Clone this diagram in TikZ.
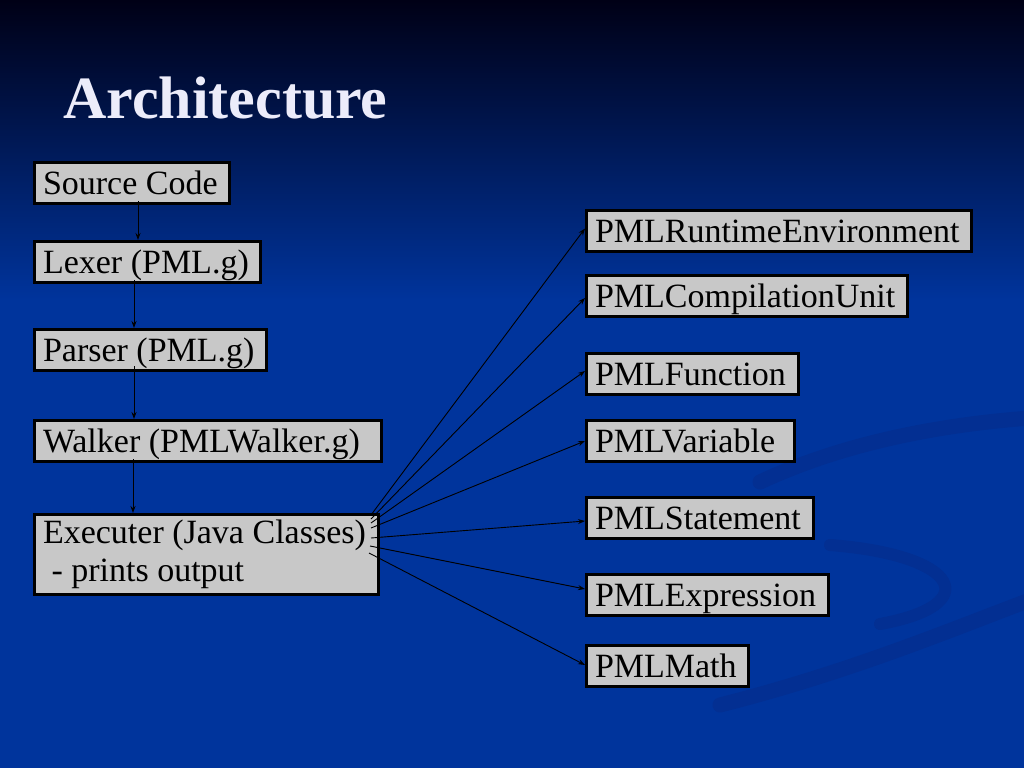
\documentclass[tikz,border=0pt]{standalone}
\usepackage{fontspec}
\setmainfont{Liberation Serif}
\usepackage{tikz}
\usetikzlibrary{positioning, calc, arrows.meta}
\definecolor{bgtop}{RGB}{0,0,22}
\definecolor{bgmid}{RGB}{8,38,118}
\definecolor{bgbot}{RGB}{0,52,156}
\definecolor{swoosh}{RGB}{3,47,146}
\definecolor{boxgray}{RGB}{200,200,200}
\definecolor{titlecol}{RGB}{236,236,250}
\tikzstyle{box} = [draw=black, line width=3pt, fill=boxgray, anchor=north west, align=flush left, inner xsep=8.5pt, inner ysep=1.5pt, font=\fontsize{34}{38}\selectfont]
\tikzstyle{onebox} = [box, text height=30pt, text depth=8pt, minimum height=41pt]
\tikzstyle{link} = [->, line width=0.9pt, >={Stealth[length=7pt,width=5pt]}]
\tikzstyle{heading} = [anchor=base west, inner sep=0pt, font=\fontsize{60}{64}\selectfont\bfseries]

\begin{document}
\begin{tikzpicture}[x=1pt, y=-1pt]
\useasboundingbox (0,0) rectangle (1024,768);
% slide background
\fill[bgbot] (0,0) rectangle (1024,768);
\shade[top color=bgtop, middle color=bgmid, bottom color=bgbot] (0,0) rectangle (1024,300);
\draw[swoosh, line width=15pt, line cap=round] (760,482) .. controls (850,440) and (950,424) .. (1030,418);
\draw[swoosh, line width=12pt, line cap=round] (830,545) .. controls (960,555) and (985,605) .. (880,624);
\draw[swoosh, line width=15pt, line cap=round] (720,705) .. controls (850,672) and (950,630) .. (1030,600);

% title
\node[heading, text=titlecol] (head) at (63,118) {Architecture};

% pipeline
\node[onebox, text width=178pt] (src) at (33,161) {Source Code};
\node[onebox, text width=209pt, below=35pt of src.south west, anchor=north west] (lex) {Lexer (PML.g)};
\node[onebox, text width=215pt, below=44pt of lex.south west, anchor=north west] (par) {Parser (PML.g)};
\node[onebox, text width=330pt, below=47pt of par.south west, anchor=north west] (walk) {Walker (PMLWalker.g)};
\node[box, text width=327pt, minimum height=80pt, below=50pt of walk.south west, anchor=north west] (exec) {Executer (Java Classes)\\\ - prints output};

% java classes
\node[onebox, text width=368pt] (env) at (585,209) {PMLRuntimeEnvironment};
\node[onebox, text width=304pt, below=21pt of env.south west, anchor=north west] (unit) {PMLCompilationUnit};
\node[onebox, text width=195pt, below=34pt of unit.south west, anchor=north west] (func) {PMLFunction};
\node[onebox, text width=191pt, below=23pt of func.south west, anchor=north west] (var) {PMLVariable};
\node[onebox, text width=210pt, below=33pt of var.south west, anchor=north west] (stmt) {PMLStatement};
\node[onebox, text width=225pt, below=33pt of stmt.south west, anchor=north west] (expr) {PMLExpression};
\node[onebox, text width=145pt, below=27pt of expr.south west, anchor=north west] (math) {PMLMath};

\draw[link] ($(src.south west)+(105,-4)$) -- ($(lex.north west)+(105,0)$);
\draw[link] ($(lex.south west)+(101,-4)$) -- ($(par.north west)+(101,0)$);
\draw[link] ($(par.south west)+(101,-6)$) -- ($(walk.north west)+(101,0)$);
\draw[link] ($(walk.south west)+(100,-4)$) -- ($(exec.north west)+(100,0)$);

\draw[link] ($(exec.north east)+(-9,2)$) -- ($(env.west)+(0,-2.5)$);
\draw[link] ($(exec.north east)+(-9,6)$) -- ($(unit.west)+(0,2)$);
\draw[link] ($(exec.north east)+(-9,10)$) -- ($(func.west)+(0,-3)$);
\draw[link] ($(exec.north east)+(-9,15)$) -- (var.west);
\draw[link] ($(exec.north east)+(-9,25)$) -- ($(stmt.west)+(0,3)$);
\draw[link] ($(exec.north east)+(-10,33)$) -- ($(expr.west)+(0,-6)$);
\draw[link] ($(exec.north east)+(-11,40)$) -- ($(math.west)+(0,-1)$);
\end{tikzpicture}
\end{document}
